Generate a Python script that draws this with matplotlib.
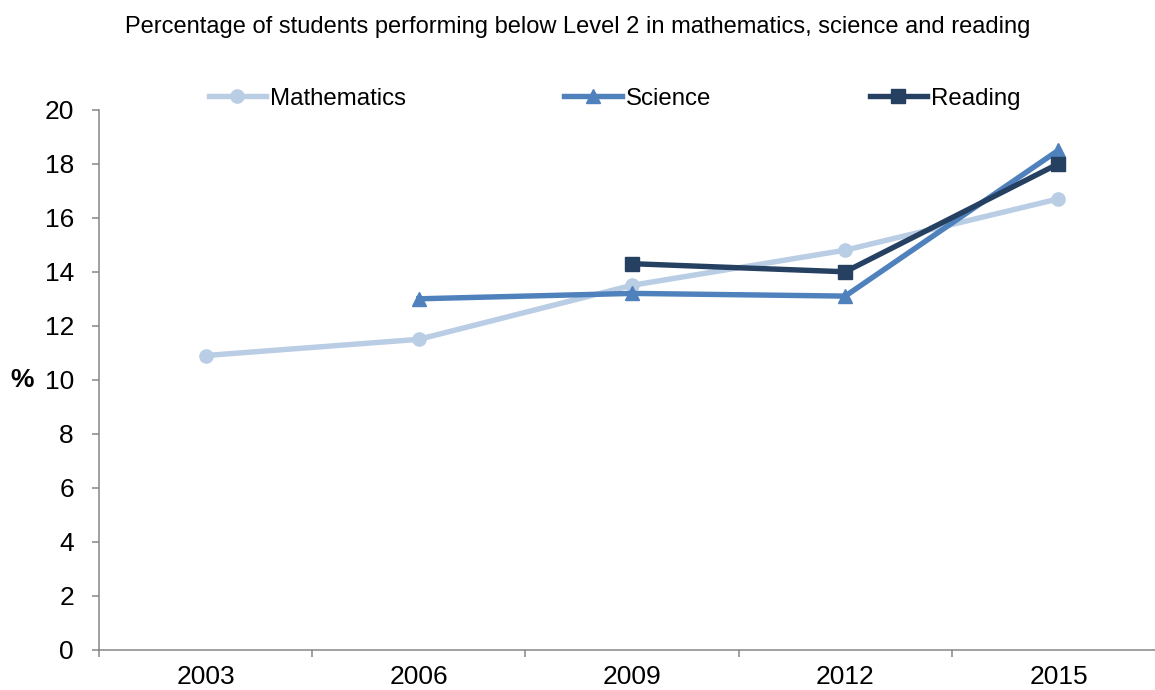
import numpy as np
import matplotlib
matplotlib.use("Agg")
import matplotlib.pyplot as plt

plt.rcParams["font.family"] = ["Liberation Sans", "DejaVu Sans"]

# ---- data ----
years = ["2003", "2006", "2009", "2012", "2015"]
maths = [10.9, 11.5, 13.5, 14.8, 16.7]
science = [np.nan, 13.0, 13.2, 13.1, 18.5]
reading = [np.nan, np.nan, 14.3, 14.0, 18.0]

title = "Percentage of students performing below Level 2 in mathematics, science and reading"

c_math = "#B9CDE5"
c_sci = "#4F81BD"
c_read = "#254061"
grey = "#868686"

fig = plt.figure(figsize=(11.55, 6.9), dpi=100)
ax = fig.add_axes([0.0857, 0.058, 0.923, 0.783])

x = np.arange(len(years))
ax.plot(x, maths, color=c_math, lw=3.9, marker="o", ms=9.5, label="Mathematics")
ax.plot(x, science, color=c_sci, lw=3.9, marker="^", ms=10.5, label="Science")
ax.plot(x, reading, color=c_read, lw=3.9, marker="s", ms=9.5, label="Reading")

ax.set_xlim(-0.5, len(years) - 0.5)
ax.set_ylim(0, 20)
ax.set_yticks(np.arange(0, 21, 2))
ax.set_xticks(x)
ax.set_xticklabels(years)
ax.set_xticks(np.arange(-0.5, len(years), 1.0), minor=True)
ax.tick_params(axis="x", which="major", length=0, labelsize=19, pad=11)
ax.tick_params(axis="x", which="minor", length=5, width=1.1, color=grey)
ax.tick_params(axis="y", length=5, width=1.1, color=grey, labelsize=19, pad=13)

for s in ("top", "right"):
    ax.spines[s].set_visible(False)
for s in ("left", "bottom"):
    ax.spines[s].set_color(grey)
    ax.spines[s].set_linewidth(1.1)

ax.set_ylabel("%", rotation=0, fontsize=19, fontweight="bold", va="center", ha="center")
ax.yaxis.set_label_coords(-0.072, 0.5)

fig.text(0.5, 0.961, title, ha="center", va="center", fontsize=17)

fig.legend(loc="center", bbox_to_anchor=(0.532, 0.857), ncol=3, frameon=False,
           fontsize=17.3, handlelength=2.4, handletextpad=0.15, columnspacing=6.6)

fig.savefig("out.png", dpi=100)
